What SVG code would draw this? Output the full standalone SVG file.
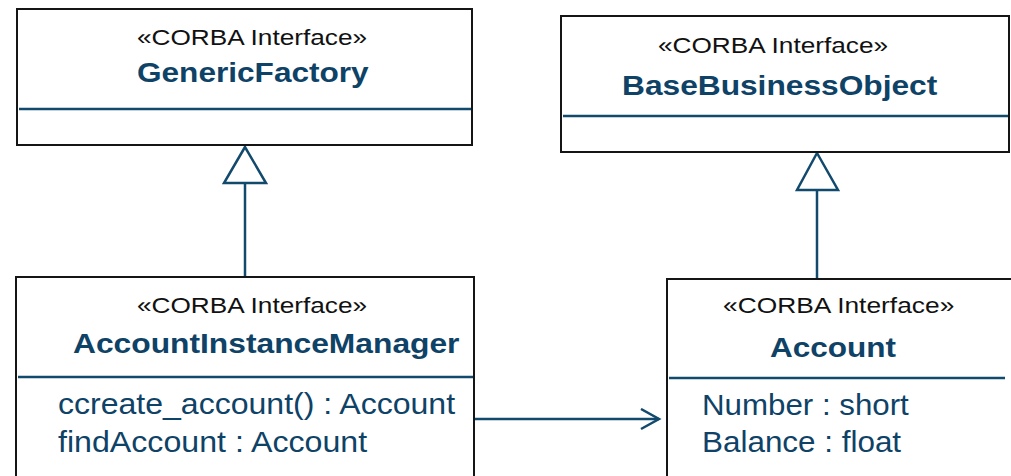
<svg xmlns="http://www.w3.org/2000/svg" width="1011" height="476" viewBox="0 0 1011 476">
  <style>
    .box { fill: #ffffff; stroke: #151515; stroke-width: 2; }
    .sep { stroke: #124a6e; stroke-width: 2.5; fill: none; }
    .link { stroke: #124a6e; stroke-width: 2.5; fill: none; }
    .stereo { font-family: "Liberation Sans", Arial, sans-serif; font-size: 22px; fill: #111111; }
    .name { font-family: "Liberation Sans", Arial, sans-serif; font-size: 28px; font-weight: bold; fill: #0e4266; }
    .member { font-family: "Liberation Sans", Arial, sans-serif; font-size: 29px; fill: #0e4266; }
  </style>
  <defs>
    <marker id="open-arrow" markerUnits="userSpaceOnUse" markerWidth="24" markerHeight="26" refX="19" refY="11" orient="auto">
      <path d="M1,1 L19,11 L1,21" fill="none" stroke="#124a6e" stroke-width="2.5"/>
    </marker>
  </defs>

  <g id="connectors">
    <!-- AccountInstanceManager realizes GenericFactory -->
    <line class="link" x1="245" y1="183" x2="245" y2="278"/>
    <polygon class="link" points="245,147 224,183 266,183" fill="#ffffff"/>
    <!-- Account realizes BaseBusinessObject -->
    <line class="link" x1="817" y1="190" x2="817" y2="279"/>
    <polygon class="link" points="817,153 797,190 838,190" fill="#ffffff"/>
    <!-- AccountInstanceManager navigates to Account -->
    <line class="link" x1="475" y1="419" x2="659" y2="419" marker-end="url(#open-arrow)"/>
  </g>

  <!-- text is set in a wide face: each label is scaled horizontally -->
  <g id="generic-factory">
    <rect class="box" x="17" y="9" width="455" height="136"/>
    <line class="sep" x1="19" y1="109" x2="471" y2="109"/>
    <text class="stereo" transform="translate(137 45) scale(1.18 1)" textLength="195" lengthAdjust="spacingAndGlyphs">«CORBA Interface»</text>
    <text class="name" transform="translate(137 82) scale(1.13 1)" textLength="205" lengthAdjust="spacingAndGlyphs">GenericFactory</text>
  </g>

  <g id="base-business-object">
    <rect class="box" x="561" y="16" width="448" height="136"/>
    <line class="sep" x1="563" y1="116" x2="1008" y2="116"/>
    <text class="stereo" transform="translate(658 53) scale(1.18 1)" textLength="195" lengthAdjust="spacingAndGlyphs">«CORBA Interface»</text>
    <text class="name" transform="translate(622 95) scale(1.13 1)" textLength="279" lengthAdjust="spacingAndGlyphs">BaseBusinessObject</text>
  </g>

  <g id="account-instance-manager">
    <rect class="box" x="16" y="277" width="458" height="210"/>
    <line class="sep" x1="18" y1="377" x2="473" y2="377"/>
    <text class="stereo" transform="translate(137 313) scale(1.18 1)" textLength="195" lengthAdjust="spacingAndGlyphs">«CORBA Interface»</text>
    <text class="name" transform="translate(73 353) scale(1.13 1)" textLength="342" lengthAdjust="spacingAndGlyphs">AccountInstanceManager</text>
    <text class="member" transform="translate(58 414) scale(1.1 1)" textLength="361" lengthAdjust="spacingAndGlyphs">ccreate_account() : Account</text>
    <text class="member" transform="translate(58 452) scale(1.1 1)" textLength="281" lengthAdjust="spacingAndGlyphs">findAccount : Account</text>
  </g>

  <g id="account">
    <rect class="box" x="667" y="279" width="360" height="210"/>
    <line class="sep" x1="669" y1="378" x2="1005" y2="378"/>
    <text class="stereo" transform="translate(723 313) scale(1.18 1)" textLength="196" lengthAdjust="spacingAndGlyphs">«CORBA Interface»</text>
    <text class="name" transform="translate(770 357) scale(1.13 1)" textLength="111.5" lengthAdjust="spacingAndGlyphs">Account</text>
    <text class="member" transform="translate(702 415) scale(1.1 1)" textLength="188" lengthAdjust="spacingAndGlyphs">Number : short</text>
    <text class="member" transform="translate(702 452) scale(1.1 1)" textLength="181" lengthAdjust="spacingAndGlyphs">Balance : float</text>
  </g>
</svg>
